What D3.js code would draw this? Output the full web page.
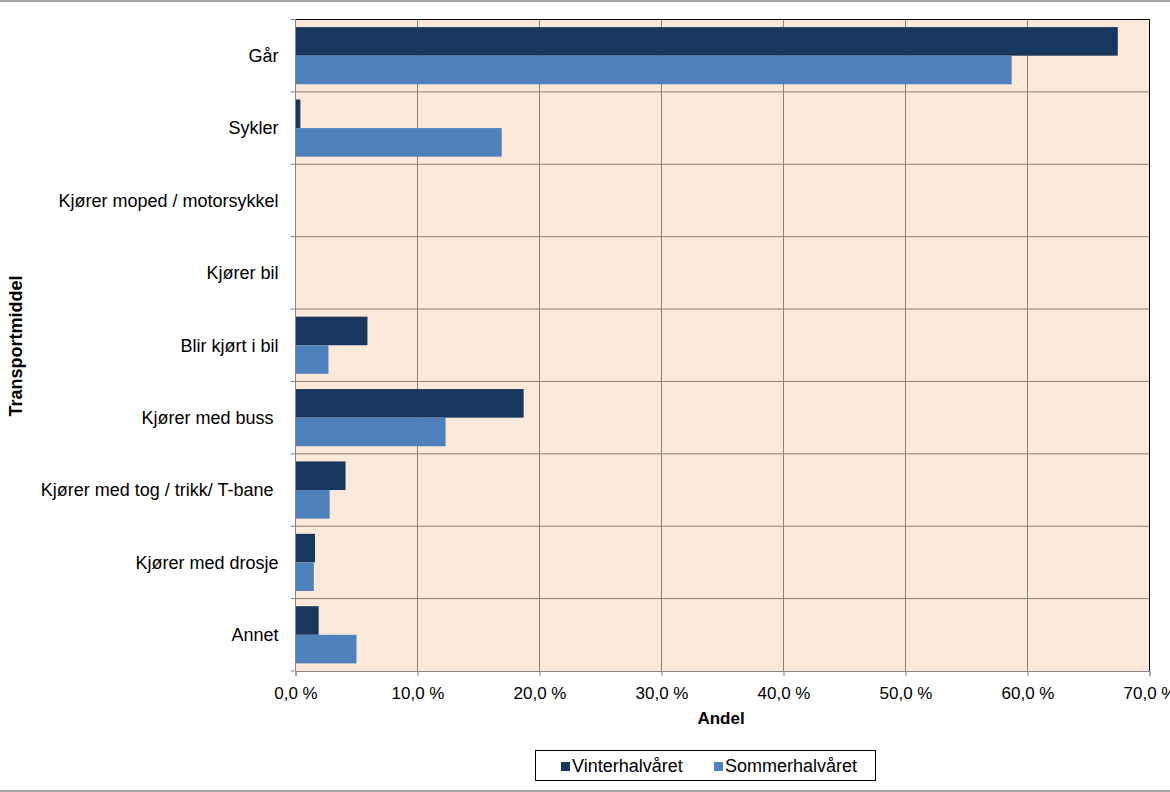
<!DOCTYPE html>
<html><head><meta charset="utf-8">
<script src="https://cdn.jsdelivr.net/npm/d3@7"></script>
<style>body{margin:0;background:#fff}text{font-family:"Liberation Sans",Arial,sans-serif}</style>
</head><body>
<svg id="c" width="1170" height="792"></svg>
<script>
const categories = ["Går","Sykler","Kjører moped / motorsykkel","Kjører bil","Blir kjørt i bil","Kjører med buss ","Kjører med tog / trikk/ T-bane ","Kjører med drosje","Annet"];
const seriesNames = ["Vinterhalvåret","Sommerhalvåret"];
const vinter = [67.4, 0.4, 0, 0, 5.9, 18.7, 4.1, 1.6, 1.9];
const sommer = [58.7, 16.9, 0, 0, 2.7, 12.3, 2.8, 1.5, 5.0];
const xTicks = [0,10,20,30,40,50,60,70];
const colors = ["#17375E","#4F81BD"];

const svg = d3.select("#c");
const L=295.5, R=1149.5, T=19.5, B=671;
const x = d3.scaleLinear().domain([0,70]).range([L,R]);
const y = d3.scaleBand().domain(categories).range([T,B]).paddingInner(0.21).paddingOuter(0.105);
const yb = d3.scaleBand().domain(categories).range([T,B]);
const sub = d3.scaleBand().domain(seriesNames).range([0,y.bandwidth()]);

// outer lines
svg.append("line").attr("x1",0).attr("x2",1170).attr("y1",1).attr("y2",1).attr("stroke","#888").attr("stroke-width",1.5);
svg.append("line").attr("x1",0).attr("x2",1170).attr("y1",791).attr("y2",791).attr("stroke","#888").attr("stroke-width",1.5);

svg.append("rect").attr("x",L).attr("y",T).attr("width",R-L).attr("height",B-T).attr("fill","#FDE9D9");

// gridlines
svg.append("g").selectAll("line").data(xTicks.slice(1)).join("line")
  .attr("x1",d=>x(d)).attr("x2",d=>x(d)).attr("y1",T).attr("y2",B).attr("stroke","#8C7F73").attr("stroke-width",1);
svg.append("g").selectAll("line").data(categories.slice(1)).join("line")
  .attr("x1",L).attr("x2",R).attr("y1",d=>yb(d)).attr("y2",d=>yb(d)).attr("stroke","#8C7F73").attr("stroke-width",1);

// bars
const data = [vinter, sommer];
seriesNames.forEach((s,si)=>{
  svg.append("g").selectAll("rect").data(categories).join("rect")
    .attr("x",x(0)).attr("y",(d)=>y(d)+sub(s))
    .attr("width",(d,i)=>x(data[si][i])-x(0)).attr("height",sub.bandwidth())
    .attr("fill",colors[si]);
});

// border top/right
svg.append("line").attr("x1",L).attr("x2",R).attr("y1",T).attr("y2",T).attr("stroke","#000");
svg.append("line").attr("x1",R).attr("x2",R).attr("y1",T).attr("y2",B).attr("stroke","#000");

// axes
const xAxis = d3.axisBottom(x).tickValues(xTicks).tickSize(5).tickPadding(11).tickFormat(d=>d3.format(".1f")(d).replace(".",",")+" %");
const gx = svg.append("g").attr("transform",`translate(0,${B})`).call(xAxis);
gx.select(".domain").attr("stroke","#868686");
gx.selectAll(".tick line").attr("stroke","#868686");
gx.selectAll("text").attr("font-size",17).attr("fill","#000").style("font-family","Liberation Sans, Arial");

const gy = svg.append("g").attr("transform",`translate(${L},0)`);
gy.append("line").attr("x1",0).attr("x2",0).attr("y1",T).attr("y2",B).attr("stroke","#868686");
gy.selectAll("line.t").data(categories.concat(["_end"])).join("line").attr("class","t")
  .attr("x1",-5).attr("x2",0).attr("y1",(d,i)=>i<categories.length?yb(d):B).attr("y2",(d,i)=>i<categories.length?yb(d):B).attr("stroke","#868686");
gy.selectAll("text").data(categories).join("text")
  .attr("x",-17).attr("y",d=>yb(d)+yb.bandwidth()/2).attr("dy","0.35em")
  .attr("text-anchor","end").attr("font-size",18).style("white-space","pre").text(d=>d);

svg.append("text").attr("x",721).attr("y",724).attr("text-anchor","middle").attr("font-size",17).attr("font-weight","bold").text("Andel");
svg.append("text").attr("transform","translate(22,346) rotate(-90)").attr("text-anchor","middle").attr("font-size",18).attr("font-weight","bold").text("Transportmiddel");

// legend
const lg = svg.append("g");
lg.append("rect").attr("x",535.5).attr("y",750.5).attr("width",340).attr("height",30).attr("fill","#fff").attr("stroke","#000");
const lx=[561,714];
seriesNames.forEach((s,i)=>{
  lg.append("rect").attr("x",lx[i]).attr("y",762).attr("width",9).attr("height",9).attr("fill",colors[i]);
  lg.append("text").attr("x",lx[i]+11).attr("y",772).attr("font-size",18).text(s);
});
</script>
</body></html>
